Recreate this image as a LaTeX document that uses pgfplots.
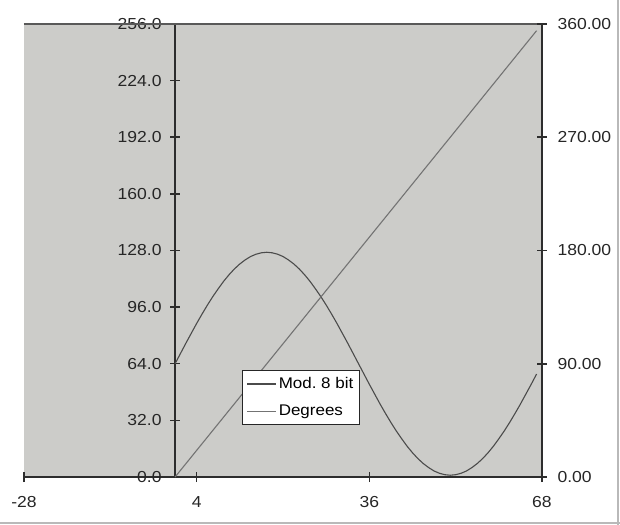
\documentclass[border=0pt]{standalone}
\usepackage{pgfplots}
\pgfplotsset{compat=1.18}
\usepackage{fontspec}
\setmainfont{Liberation Sans}[FakeStretch=1.1]
\frenchspacing
\definecolor{bggray}{RGB}{204,204,201}
\definecolor{axcol}{RGB}{45,45,45}
\definecolor{modcol}{RGB}{75,75,75}
\definecolor{degcol}{RGB}{115,115,115}
\begin{document}
\begin{tikzpicture}
\useasboundingbox (-24bp,-48bp) rectangle (596bp,477bp);
\draw[line width=1.5bp, gray!55] (-24bp,-46bp) -- (596bp,-46bp);
\draw[line width=1.5bp, gray!55] (594bp,-48bp) -- (594bp,477bp);
\begin{axis}[
  at={(0,0)}, anchor=south west,
  scale only axis, width=518bp, height=453bp,
  xmin=-28, xmax=68, ymin=0, ymax=256,
  axis x line=bottom, axis y line=center,
  axis line style={-, line width=1.5bp, color=axcol},
  every inner y axis line/.append style={-},
  every inner x axis line/.append style={-},
  hide obscured y ticks=false, hide obscured x ticks=false,
  xtick={-28,4,36,68}, xticklabels={-28,4,36,68},
  ytick={0,32,64,96,128,160,192,224,256},
  yticklabels={0.0,32.0,64.0,96.0,128.0,160.0,192.0,224.0,256.0},
  tick align=center, major tick length=10bp,
  tick style={line width=1.5bp, color=axcol},
  tick label style={font=\fontsize{16}{19}\selectfont, color=black!85},
  xticklabel style={yshift=-11bp},
  yticklabel style={xshift=-5bp},
  axis background/.style={fill=bggray},
  clip=false,
]
\draw[line width=1.5bp, gray!70!black] (rel axis cs:0,1) -- (rel axis cs:1,1);
\addplot[modcol, line width=1.1bp, mark=none] coordinates {
(0,64) (1,69.8) (2,75.6) (3,81.2) (4,86.8) (5,92.1) (6,97.2) (7,102.0) (8,106.4) (9,110.6)
(10,114.3) (11,117.6) (12,120.4) (13,122.7) (14,124.6) (15,125.9) (16,126.7) (17,127) (18,126.7) (19,125.9)
(20,124.6) (21,122.7) (22,120.4) (23,117.6) (24,114.3) (25,110.6) (26,106.4) (27,102.0) (28,97.2) (29,92.1)
(30,86.8) (31,81.2) (32,75.6) (33,69.8) (34,64) (35,58.2) (36,52.4) (37,46.8) (38,41.2) (39,35.9)
(40,30.8) (41,26.0) (42,21.6) (43,17.4) (44,13.7) (45,10.4) (46,7.6) (47,5.3) (48,3.4) (49,2.1)
(50,1.3) (51,1) (52,1.3) (53,2.1) (54,3.4) (55,5.3) (56,7.6) (57,10.4) (58,13.7) (59,17.4)
(60,21.6) (61,26.0) (62,30.8) (63,35.9) (64,41.2) (65,46.8) (66,52.4) (67,58.2)
};
\end{axis}
\begin{axis}[
  at={(0,0)}, anchor=south west,
  scale only axis, width=518bp, height=453bp,
  xmin=-28, xmax=68, ymin=0, ymax=360,
  axis x line=none, axis y line*=right,
  axis line style={-, line width=1.5bp, color=axcol},
  ytick={0,90,180,270,360},
  yticklabels={0.00,90.00,180.00,270.00,360.00},
  tick align=center, major tick length=10bp,
  tick style={line width=1.5bp, color=axcol},
  tick label style={font=\fontsize{16}{19}\selectfont, color=black!85},
  yticklabel style={xshift=7bp},
  legend style={at={(0.421,0.236)}, anchor=north west, draw=black!85, line width=1.2bp,
    fill=white, font=\fontsize{15.5}{18}\selectfont, inner xsep=4bp, inner ysep=5bp,
    row sep=11bp},
  legend cell align=left,
  legend image code/.code={\draw[#1] (0bp,0bp) -- (29bp,0bp);},
]
\addlegendimage{modcol, line width=1.1bp}
\addplot[degcol, line width=1.1bp, mark=none] coordinates {
(0,0) (17,90) (34,180) (51,270) (67,354.7)
};
\legend{Mod. 8 bit, Degrees}
\end{axis}
\end{tikzpicture}
\end{document}
